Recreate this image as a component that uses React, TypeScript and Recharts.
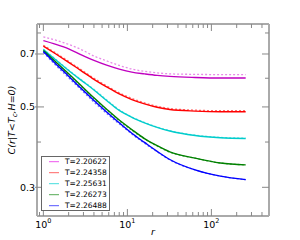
import React from 'react';
import { LineChart, Line, XAxis, YAxis, Legend } from 'recharts';

// distances r
const radii = [1, 1.41, 2, 2.83, 4, 5.66, 8, 11.3, 16, 22.6, 32, 64, 128, 256];

// temperature labels
const temps = ['T=2.20622', 'T=2.24358', 'T=2.25631', 'T=2.26273', 'T=2.26488'];

// solid curves (one per temperature)
const solidT1 = [0.762, 0.744, 0.723, 0.696, 0.672, 0.652, 0.636, 0.624, 0.617, 0.611, 0.607, 0.603, 0.601, 0.601];
const solidT2 = [0.736, 0.7, 0.664, 0.629, 0.596, 0.568, 0.543, 0.524, 0.51, 0.499, 0.492, 0.487, 0.485, 0.485];
const solidT3 = [0.72, 0.674, 0.63, 0.592, 0.557, 0.521, 0.489, 0.468, 0.452, 0.439, 0.429, 0.417, 0.411, 0.409];
const solidT4 = [0.716, 0.665, 0.617, 0.572, 0.53, 0.493, 0.46, 0.433, 0.409, 0.391, 0.376, 0.361, 0.35, 0.346];
const solidT5 = [0.711, 0.657, 0.608, 0.562, 0.521, 0.484, 0.452, 0.423, 0.399, 0.377, 0.358, 0.335, 0.322, 0.315];

// dashed (lighter) curves
const dashT1 = [0.781, 0.764, 0.744, 0.72, 0.691, 0.67, 0.651, 0.636, 0.627, 0.621, 0.617, 0.615, 0.614, 0.614];
const dashT2 = [0.74, 0.704, 0.668, 0.633, 0.6, 0.572, 0.547, 0.528, 0.513, 0.502, 0.495, 0.49, 0.488, 0.488];
const dashT3 = [0.722, 0.676, 0.632, 0.594, 0.559, 0.523, 0.491, 0.469, 0.453, 0.44, 0.43, 0.418, 0.412, 0.41];
const dashT4 = [0.713, 0.661, 0.613, 0.569, 0.527, 0.491, 0.458, 0.431, 0.408, 0.39, 0.375, 0.361, 0.35, 0.346];
const dashT5 = [0.707, 0.651, 0.602, 0.557, 0.516, 0.48, 0.449, 0.421, 0.397, 0.376, 0.357, 0.335, 0.322, 0.315];

const solidSeries = [solidT1, solidT2, solidT3, solidT4, solidT5];
const dashSeries = [dashT1, dashT2, dashT3, dashT4, dashT5];

const solidColors = ['#c000c0', '#ff0000', '#00cccc', '#008000', '#0000ff'];
const dashColors = ['#e88ae8', '#ff7070', '#70e0e0', '#60b060', '#7070ff'];
const legendColors = ['#ee55ee', '#ff6666', '#44dddd', '#55aa55', '#5555ff'];

// axis ticks
const xTicks = [0.9, 1, 2, 3, 4, 5, 6, 7, 8, 9, 10, 20, 30, 40, 50, 60, 70, 80, 90, 100, 200, 300, 400];
const xMajor = [1, 10, 100];
const yTicks = [0.3, 0.4, 0.5, 0.6, 0.7, 0.8];
const yMajor = [0.3, 0.5, 0.7];

const data = radii.map((r, i) => {
  const row: Record<string, number> = { r };
  solidSeries.forEach((s, k) => (row['s' + k] = s[i]));
  dashSeries.forEach((s, k) => (row['d' + k] = s[i]));
  return row;
});

const FONT = 'DejaVu Sans';
const TICK = '#888';
const FRAME = { stroke: '#aaaaaa', strokeWidth: 2 };

function BottomTick(props: any) {
  const { x, y, payload } = props;
  const v = payload.value;
  const major = xMajor.includes(v);
  const len = major ? 7 : 4;
  return (
    <g>
      <line x1={x} x2={x} y1={y} y2={y - len} stroke={TICK} strokeWidth={1} />
      {major && (
        <text x={x} y={y + 11.5} textAnchor="middle" fontSize={9.5} fontFamily={FONT} fill="#000">
          10
          <tspan dy={-4.5} fontSize={6.5}>
            {String(Math.round(Math.log10(v)))}
          </tspan>
        </text>
      )}
    </g>
  );
}

function TopTick(props: any) {
  const { x, y, payload } = props;
  const major = xMajor.includes(payload.value);
  const len = major ? 7 : 4;
  return <line x1={x} x2={x} y1={y} y2={y + len} stroke={TICK} strokeWidth={1} />;
}

function LeftTick(props: any) {
  const { x, y, payload } = props;
  const v = payload.value;
  const major = yMajor.includes(v);
  const len = major ? 7 : 4;
  return (
    <g>
      <line x1={x - (major ? 2 : 0)} x2={x + len} y1={y} y2={y} stroke={TICK} strokeWidth={1} />
      {major && (
        <text x={x - 2} y={y + 3.5} textAnchor="end" fontSize={9.5} fontFamily={FONT} fill="#000">
          {v.toFixed(1)}
        </text>
      )}
    </g>
  );
}

function RightTick(props: any) {
  const { x, y, payload } = props;
  const major = yMajor.includes(payload.value);
  const len = major ? 7 : 4;
  return <line x1={x} x2={x - len} y1={y} y2={y} stroke={TICK} strokeWidth={1} />;
}

function LegendBox() {
  return (
    <svg width={69} height={55} style={{ display: 'block' }}>
      <rect x={0.5} y={0.5} width={68} height={54} fill="#fff" stroke="#666" strokeWidth={1} />
      {temps.map((t, i) => (
        <g key={t}>
          <line x1={8} x2={18} y1={5.7 + 11 * i} y2={5.7 + 11 * i} stroke={legendColors[i]} strokeWidth={1} />
          <text x={24} y={5.7 + 11 * i + 2.7} fontSize={7.5} fontFamily={FONT} fill="#000">
            {t}
          </text>
        </g>
      ))}
    </svg>
  );
}

export default function App() {
  return (
    <div style={{ position: 'absolute', left: 0, top: 0, width: 300, height: 240, background: '#fff' }}>
      <LineChart width={300} height={240} data={data} margin={{ top: 19, right: 26, bottom: 0, left: 0 }}>
        <XAxis
          dataKey="r"
          type="number"
          scale="log"
          domain={[0.84, 485]}
          allowDataOverflow
          ticks={xTicks}
          interval={0}
          height={24}
          tickLine={false}
          tickSize={0}
          tickMargin={0}
          axisLine={FRAME}
          tick={<BottomTick />}
          label={{
            content: (p: any) => {
              const vb = p.viewBox || { x: 37, y: 216, width: 232, height: 24 };
              return (
                <text
                  x={vb.x + vb.width / 2}
                  y={vb.y + vb.height - 5}
                  textAnchor="middle"
                  fontSize={9.5}
                  fontStyle="italic"
                  fontFamily={FONT}
                  fill="#000"
                >
                  r
                </text>
              );
            },
          }}
        />
        <XAxis
          xAxisId="top"
          orientation="top"
          dataKey="r"
          type="number"
          scale="log"
          domain={[0.84, 485]}
          allowDataOverflow
          ticks={xTicks}
          interval={0}
          height={5}
          tickLine={false}
          tickSize={0}
          tickMargin={0}
          axisLine={FRAME}
          tick={<TopTick />}
        />
        <YAxis
          type="number"
          scale="log"
          domain={[0.25, 0.847]}
          allowDataOverflow
          ticks={yTicks}
          interval={0}
          width={37}
          tickLine={false}
          tickSize={0}
          tickMargin={0}
          axisLine={FRAME}
          tick={<LeftTick />}
          label={{
            content: (p: any) => {
              const vb = p.viewBox || { x: 0, y: 24, width: 37, height: 192 };
              const cy = vb.y + vb.height / 2;
              const cx = vb.x + 14.5;
              return (
                <text
                  x={cx}
                  y={cy}
                  transform={`rotate(-90 ${cx} ${cy})`}
                  textAnchor="middle"
                  fontSize={9.5}
                  fontStyle="italic"
                  fontFamily={FONT}
                  fill="#000"
                >
                  C(r|T&lt;T
                  <tspan dy={2} fontSize={7}>c</tspan>
                  <tspan dy={-2}>,H=0)</tspan>
                </text>
              );
            },
          }}
        />
        <YAxis
          yAxisId="right"
          orientation="right"
          type="number"
          scale="log"
          domain={[0.25, 0.847]}
          allowDataOverflow
          ticks={yTicks}
          interval={0}
          width={5}
          tickLine={false}
          tickSize={0}
          tickMargin={0}
          axisLine={FRAME}
          tick={<RightTick />}
        />
        {dashSeries.map((_, k) => (
          <Line
            key={'d' + k}
            dataKey={'d' + k}
            type="monotone"
            stroke={dashColors[k]}
            strokeWidth={1.3}
            strokeDasharray="2 2"
            dot={false}
            isAnimationActive={false}
          />
        ))}
        {solidSeries.map((_, k) => (
          <Line
            key={'s' + k}
            dataKey={'s' + k}
            type="monotone"
            stroke={solidColors[k]}
            strokeWidth={1.4}
            dot={false}
            isAnimationActive={false}
          />
        ))}
        <Legend
          layout="vertical"
          align="center"
          verticalAlign="middle"
          wrapperStyle={{ left: 41, top: 156, width: 69, height: 55 }}
          content={() => <LegendBox />}
        />
      </LineChart>
    </div>
  );
}
